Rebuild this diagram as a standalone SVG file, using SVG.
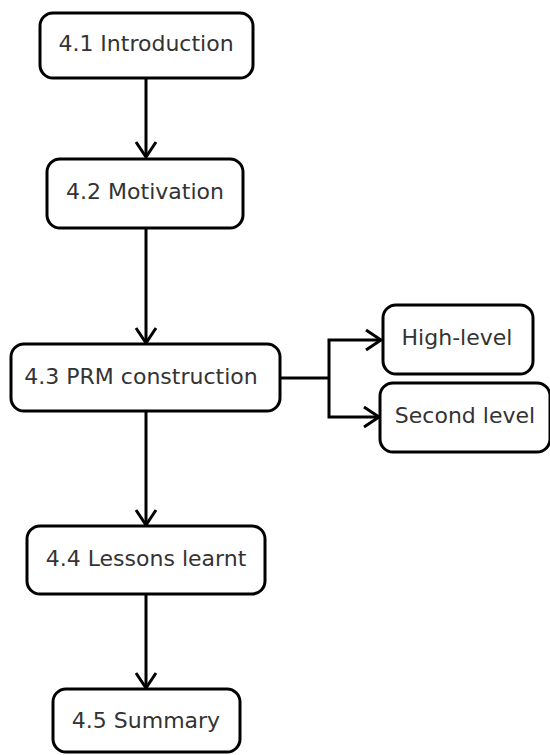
<svg xmlns="http://www.w3.org/2000/svg" width="550" height="755" viewBox="0 0 550 755">
  <defs>
    <!-- open chevron arrowhead, tip at the line end -->
    <marker id="arrow" markerUnits="userSpaceOnUse" markerWidth="30" markerHeight="30" refX="0" refY="0" viewBox="-15 -15 30 30" orient="auto" overflow="visible">
      <path d="M-15,-10 L0,0 L-15,10" fill="none" stroke="#000" stroke-width="3"/>
    </marker>
  </defs>
  <style>
    .box { fill: #fff; stroke: #000; stroke-width: 3; }
    .label { font-family: "DejaVu Sans", "Noto Sans", sans-serif; font-size: 22px; fill: #333; text-anchor: middle; }
    .edge { fill: none; stroke: #000; stroke-width: 3; }
  </style>
  <rect width="550" height="755" fill="#fff"/>

  <g id="connectors">
    <line class="edge" x1="146" y1="78" x2="146" y2="157" marker-end="url(#arrow)"/>
    <line class="edge" x1="146" y1="228" x2="146" y2="343" marker-end="url(#arrow)"/>
    <line class="edge" x1="146" y1="411" x2="146" y2="525" marker-end="url(#arrow)"/>
    <line class="edge" x1="146" y1="594" x2="146" y2="688" marker-end="url(#arrow)"/>
    <path class="edge" d="M280,378 H329"/>
    <path class="edge" d="M329,378 V340 H381" marker-end="url(#arrow)"/>
    <path class="edge" d="M329,378 V417 H379" marker-end="url(#arrow)"/>
  </g>

  <g id="n41">
    <rect class="box" x="40" y="13" width="213" height="65" rx="13"/>
    <text class="label" x="146" y="51">4.1 Introduction</text>
  </g>
  <g id="n42">
    <rect class="box" x="47" y="159" width="196" height="69" rx="13"/>
    <text class="label" x="145" y="199">4.2 Motivation</text>
  </g>
  <g id="n43">
    <rect class="box" x="11" y="344" width="269" height="67" rx="13"/>
    <text class="label" x="141" y="384">4.3 PRM construction</text>
  </g>
  <g id="nHigh">
    <rect class="box" x="383" y="305" width="150" height="69" rx="13"/>
    <text class="label" x="457" y="345">High-level</text>
  </g>
  <g id="nSecond">
    <rect class="box" x="380" y="383" width="170" height="69" rx="13"/>
    <text class="label" x="465" y="423">Second level</text>
  </g>
  <g id="n44">
    <rect class="box" x="27" y="526" width="238" height="68" rx="13"/>
    <text class="label" x="146" y="566">4.4 Lessons learnt</text>
  </g>
  <g id="n45">
    <rect class="box" x="53" y="689" width="187" height="63" rx="13"/>
    <text class="label" x="146" y="728">4.5 Summary</text>
  </g>
</svg>
